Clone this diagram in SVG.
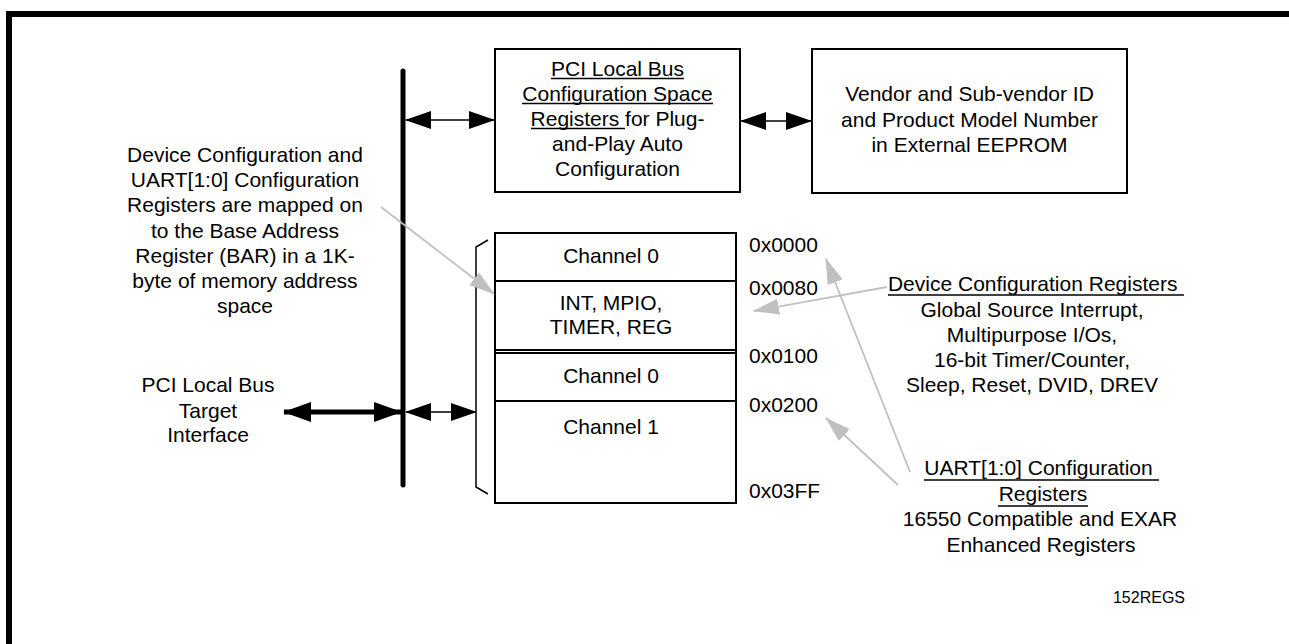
<svg xmlns="http://www.w3.org/2000/svg" width="1289" height="644" viewBox="0 0 1289 644">
<defs>
<style>
text{font-family:"Liberation Sans",Arial,sans-serif;font-size:21px;fill:#000;text-anchor:middle}
.box{fill:#fff;stroke:#000;stroke-width:2}
.thin{stroke:#000;stroke-width:1.5;fill:none}
.gray{stroke:#c0c0c0;stroke-width:1.8;fill:none}
.ul{stroke:#000;stroke-width:1.3}
</style>
<marker id="ah" markerUnits="userSpaceOnUse" markerWidth="26" markerHeight="20" refX="25" refY="10" orient="auto-start-reverse"><path d="M0,1 L26,10 L0,19 z" fill="#000"/></marker>
<marker id="ahb" markerUnits="userSpaceOnUse" markerWidth="30" markerHeight="22" refX="27" refY="11" orient="auto-start-reverse"><path d="M0,1 L28,11 L0,21 z" fill="#000"/></marker>
<marker id="ag" markerUnits="userSpaceOnUse" markerWidth="28" markerHeight="20" refX="25" refY="10" orient="auto"><path d="M0,2 L26,10 L0,18 z" fill="#c0c0c0"/></marker>
</defs>
<rect x="9" y="14" width="1300" height="660" fill="none" stroke="#000" stroke-width="6"/>

<g id="bus">
<line x1="403" y1="71" x2="403" y2="485" stroke="#000" stroke-width="5" stroke-linecap="round"/>
</g>

<g id="pci-config">
<rect class="box" x="495" y="49" width="245" height="143"/>
<text x="617.5" y="76">PCI Local Bus</text>
<text x="617.5" y="101">Configuration Space</text>
<text x="617.5" y="126">Registers for Plug-</text>
<text x="617.5" y="151">and-Play Auto</text>
<text x="617.5" y="176">Configuration</text>
<line class="ul" x1="551" y1="78.5" x2="684" y2="78.5"/>
<line class="ul" x1="522" y1="103.5" x2="713" y2="103.5"/>
<line class="ul" x1="531" y1="128.5" x2="625" y2="128.5"/>
</g>

<g id="eeprom">
<rect class="box" x="812" y="49" width="315" height="144"/>
<text x="969.5" y="101">Vendor and Sub-vendor ID</text>
<text x="969.5" y="127">and Product Model Number</text>
<text x="969.5" y="152">in External EEPROM</text>
</g>

<g id="memory-map">
<rect class="box" x="495" y="233" width="241" height="270"/>
<line x1="495" y1="281" x2="736" y2="281" stroke="#000" stroke-width="2"/>
<line x1="495" y1="350" x2="736" y2="350" stroke="#000" stroke-width="2"/>
<line x1="495" y1="353" x2="736" y2="353" stroke="#000" stroke-width="2"/>
<line x1="495" y1="401" x2="736" y2="401" stroke="#000" stroke-width="2"/>
<text x="611" y="263">Channel 0</text>
<text x="611" y="310">INT, MPIO,</text>
<text x="611" y="334">TIMER, REG</text>
<text x="611" y="383">Channel 0</text>
<text x="611" y="434">Channel 1</text>
<path class="thin" d="M488,240 L476,247 L476,487 L488,494"/>
</g>

<g id="addresses" style="text-anchor:start">
<text x="749" y="252" style="text-anchor:start">0x0000</text>
<text x="749" y="295" style="text-anchor:start">0x0080</text>
<text x="749" y="363" style="text-anchor:start">0x0100</text>
<text x="749" y="412" style="text-anchor:start">0x0200</text>
<text x="749" y="498" style="text-anchor:start">0x03FF</text>
</g>

<g id="bar-note">
<text x="245" y="162">Device Configuration and</text>
<text x="245" y="187">UART[1:0] Configuration</text>
<text x="245" y="212">Registers are mapped on</text>
<text x="245" y="238">to the Base Address</text>
<text x="245" y="263">Register (BAR) in a 1K-</text>
<text x="245" y="288">byte of memory address</text>
<text x="245" y="313">space</text>
</g>

<g id="target-interface">
<text x="208" y="392">PCI Local Bus</text>
<text x="208" y="418">Target</text>
<text x="208" y="442">Interface</text>
</g>

<g id="device-config-label">
<text x="1032.7" y="291">Device Configuration Registers</text>
<line class="ul" x1="888" y1="295" x2="1184" y2="295"/>
<text x="1032" y="317">Global Source Interrupt,</text>
<text x="1032" y="342">Multipurpose I/Os,</text>
<text x="1032" y="367">16-bit Timer/Counter,</text>
<text x="1032" y="392">Sleep, Reset, DVID, DREV</text>
</g>

<g id="uart-label">
<text x="1038.5" y="475">UART[1:0] Configuration</text>
<line class="ul" x1="924" y1="480" x2="1159" y2="480"/>
<text x="1043" y="501">Registers</text>
<line class="ul" x1="998" y1="506" x2="1088" y2="506"/>
<text x="1040" y="526">16550 Compatible and EXAR</text>
<text x="1041" y="552">Enhanced Registers</text>
</g>

<text x="1185" y="603" style="font-size:16px;text-anchor:end">152REGS</text>

<g id="connectors">
<line class="thin" x1="406" y1="120" x2="494" y2="120" marker-start="url(#ah)" marker-end="url(#ah)"/>
<line class="thin" x1="741" y1="121" x2="811" y2="121" marker-start="url(#ah)" marker-end="url(#ah)"/>
<line x1="284" y1="412" x2="401" y2="412" stroke="#000" stroke-width="5" marker-start="url(#ahb)" marker-end="url(#ahb)"/>
<line class="thin" x1="406" y1="412" x2="476" y2="412" marker-start="url(#ah)" marker-end="url(#ah)"/>
<line class="gray" x1="381" y1="207" x2="494" y2="294" marker-end="url(#ag)"/>
<line class="gray" x1="887" y1="287" x2="754" y2="311" marker-end="url(#ag)"/>
<line class="gray" x1="910" y1="472" x2="826" y2="259" marker-end="url(#ag)"/>
<line class="gray" x1="898" y1="485" x2="826" y2="418" marker-end="url(#ag)"/>
</g>
</svg>
